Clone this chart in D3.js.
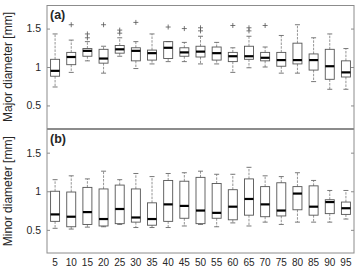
<!DOCTYPE html>
<html>
<head>
<meta charset="utf-8">
<script src="https://cdn.jsdelivr.net/npm/d3@7"></script>
<style>
  html, body { margin: 0; padding: 0; background: #fff; }
  svg { display: block; }
  text { font-family: "Liberation Sans", Arial, sans-serif; fill: #262626; }
</style>
</head>
<body>
<svg id="chart" width="358" height="269"></svg>
<script>
// ---- data ----
const categories = ["5","10","15","20","25","30","35","40","45","50","55","60","65","70","75","80","85","90","95"];
const yTicks = [0.5, 1, 1.5];

// Panel (a): Major diameter [mm]
const majorLow    = [0.74,0.93,1.08,0.92,1.14,0.98,1.04,1.07,1.07,1.04,1.04,0.93,0.99,1.00,0.92,0.92,0.81,0.71,0.71];
const majorQ1     = [0.88,1.03,1.14,1.05,1.18,1.08,1.09,1.11,1.14,1.13,1.09,1.07,1.10,1.08,1.01,1.04,0.96,0.84,0.87];
const majorMedian = [0.95,1.13,1.21,1.11,1.23,1.21,1.18,1.25,1.19,1.20,1.18,1.14,1.14,1.12,1.09,1.09,1.09,1.01,0.93];
const majorQ3     = [1.10,1.19,1.24,1.23,1.28,1.25,1.22,1.33,1.25,1.27,1.26,1.19,1.27,1.19,1.19,1.31,1.17,1.23,1.08];
const majorHigh   = [1.43,1.35,1.33,1.27,1.38,1.33,1.43,1.33,1.32,1.40,1.32,1.25,1.40,1.26,1.41,1.55,1.38,1.43,1.24];
const majorOutliers = [[],[1.55],[1.43,1.38],[1.55],[1.48,1.44],[1.58],[],[1.52],[1.50],[1.51,1.47],[],[1.54],[1.51,1.47],[1.54],[],[],[],[],[]];

// Panel (b): Minor diameter [mm]
const minorLow    = [0.52,0.51,0.535,0.54,0.57,0.53,0.53,0.53,0.55,0.57,0.54,0.59,0.55,0.60,0.57,0.60,0.60,0.60,0.64];
const minorQ1     = [0.61,0.54,0.57,0.55,0.58,0.60,0.56,0.61,0.65,0.58,0.65,0.63,0.69,0.67,0.68,0.76,0.69,0.71,0.70];
const minorMedian = [0.70,0.67,0.73,0.64,0.77,0.66,0.64,0.83,0.81,0.75,0.72,0.80,0.90,0.83,0.75,0.97,0.80,0.86,0.78];
const minorQ3     = [1.00,0.99,1.05,1.03,1.08,1.03,0.85,1.14,1.13,1.18,1.10,1.02,1.16,1.06,1.11,1.06,1.07,0.89,0.86];
const minorHigh   = [1.15,1.20,1.16,1.26,1.15,1.23,1.19,1.23,1.24,1.26,1.22,1.22,1.31,1.20,1.19,1.24,1.14,1.01,1.01];
const minorOutliers = categories.map(() => []);

// ---- layout ----
const svg = d3.select("#chart");
const left = 47, right = 354;
const x = d3.scaleBand().domain(categories).range([left, right]).padding(0);
const boxW = 9;

const panels = [
  { label: "(a)", ylabel: "Major diameter [mm]", top: 5.5, bottom: 128.5,
    low: majorLow, q1: majorQ1, med: majorMedian, q3: majorQ3, high: majorHigh, out: majorOutliers },
  { label: "(b)", ylabel: "Minor diameter [mm]", top: 129.5, bottom: 253,
    low: minorLow, q1: minorQ1, med: minorMedian, q3: minorQ3, high: minorHigh, out: minorOutliers }
];

panels.forEach((p, pi) => {
  const y = d3.scaleLinear().domain([0.2, 1.8]).range([p.bottom, p.top]);
  const g = svg.append("g");

  // frame
  g.append("rect").attr("x", left).attr("y", p.top).attr("width", right - left).attr("height", p.bottom - p.top)
    .attr("fill", "none").attr("stroke", "#8c8c8c").attr("stroke-width", 1);

  // left axis (ticks inward)
  const ax = g.append("g").attr("transform", `translate(${left},0)`)
    .call(d3.axisLeft(y).tickValues(yTicks).tickSizeInner(-3).tickSizeOuter(0).tickPadding(6).tickFormat(d3.format("")));
  ax.select(".domain").remove();
  ax.selectAll(".tick line").attr("stroke", "#8c8c8c");
  ax.selectAll(".tick text").attr("font-size", "10.5px").attr("fill", "#262626")
    .style("font-family", "'Liberation Sans', Arial, sans-serif");

  // right axis ticks inward
  const axr = g.append("g").attr("transform", `translate(${right},0)`)
    .call(d3.axisRight(y).tickValues(yTicks).tickSizeInner(-3).tickSizeOuter(0).tickFormat(""));
  axr.select(".domain").remove();
  axr.selectAll(".tick line").attr("stroke", "#8c8c8c");

  // y label
  g.append("text")
    .attr("transform", `translate(12,${(p.top + p.bottom) / 2}) rotate(-90)`)
    .attr("text-anchor", "middle").attr("font-size", "12px")
    .text(p.ylabel);

  // panel label
  g.append("text").attr("x", 50).attr("y", p.top + 13.5)
    .attr("font-size", "12.5px").attr("font-weight", "bold").attr("fill", "#111").text(p.label);

  // boxes
  categories.forEach((c, i) => {
    const cx = x(c) + x.bandwidth() / 2;
    const bg = g.append("g");
    // whiskers (dashed)
    bg.append("line").attr("x1", cx).attr("x2", cx).attr("y1", y(p.q3[i])).attr("y2", y(p.high[i]))
      .attr("stroke", "#7a7a7a").attr("stroke-width", 0.8).attr("stroke-dasharray", "2.5,1.2");
    bg.append("line").attr("x1", cx).attr("x2", cx).attr("y1", y(p.q1[i])).attr("y2", y(p.low[i]))
      .attr("stroke", "#7a7a7a").attr("stroke-width", 0.8).attr("stroke-dasharray", "2.5,1.2");
    // caps
    [p.high[i], p.low[i]].forEach(v => {
      bg.append("line").attr("x1", cx - 2.5).attr("x2", cx + 2.5).attr("y1", y(v)).attr("y2", y(v))
        .attr("stroke", "#6a6a6a").attr("stroke-width", 0.9);
    });
    // box
    bg.append("rect").attr("x", cx - boxW / 2).attr("width", boxW)
      .attr("y", y(p.q3[i])).attr("height", y(p.q1[i]) - y(p.q3[i]))
      .attr("fill", "none").attr("stroke", "#555").attr("stroke-width", 0.9);
    // median
    bg.append("line").attr("x1", cx - boxW / 2).attr("x2", cx + boxW / 2)
      .attr("y1", y(p.med[i])).attr("y2", y(p.med[i]))
      .attr("stroke", "#000").attr("stroke-width", 2.2);
    // outliers
    p.out[i].forEach(v => {
      const oy = y(v);
      bg.append("path").attr("d", `M${cx - 2.5},${oy}H${cx + 2.5}M${cx},${oy - 2.5}V${oy + 2.5}`)
        .attr("stroke", "#555").attr("stroke-width", 0.8);
    });
  });

  // x tick labels on bottom panel
  if (pi === 1) {
    g.selectAll(".xl").data(categories).enter().append("text")
      .attr("x", d => x(d) + x.bandwidth() / 2).attr("y", 266)
      .attr("text-anchor", "middle").attr("font-size", "10px")
      .text(d => d);
  }
});
</script>
</body>
</html>
